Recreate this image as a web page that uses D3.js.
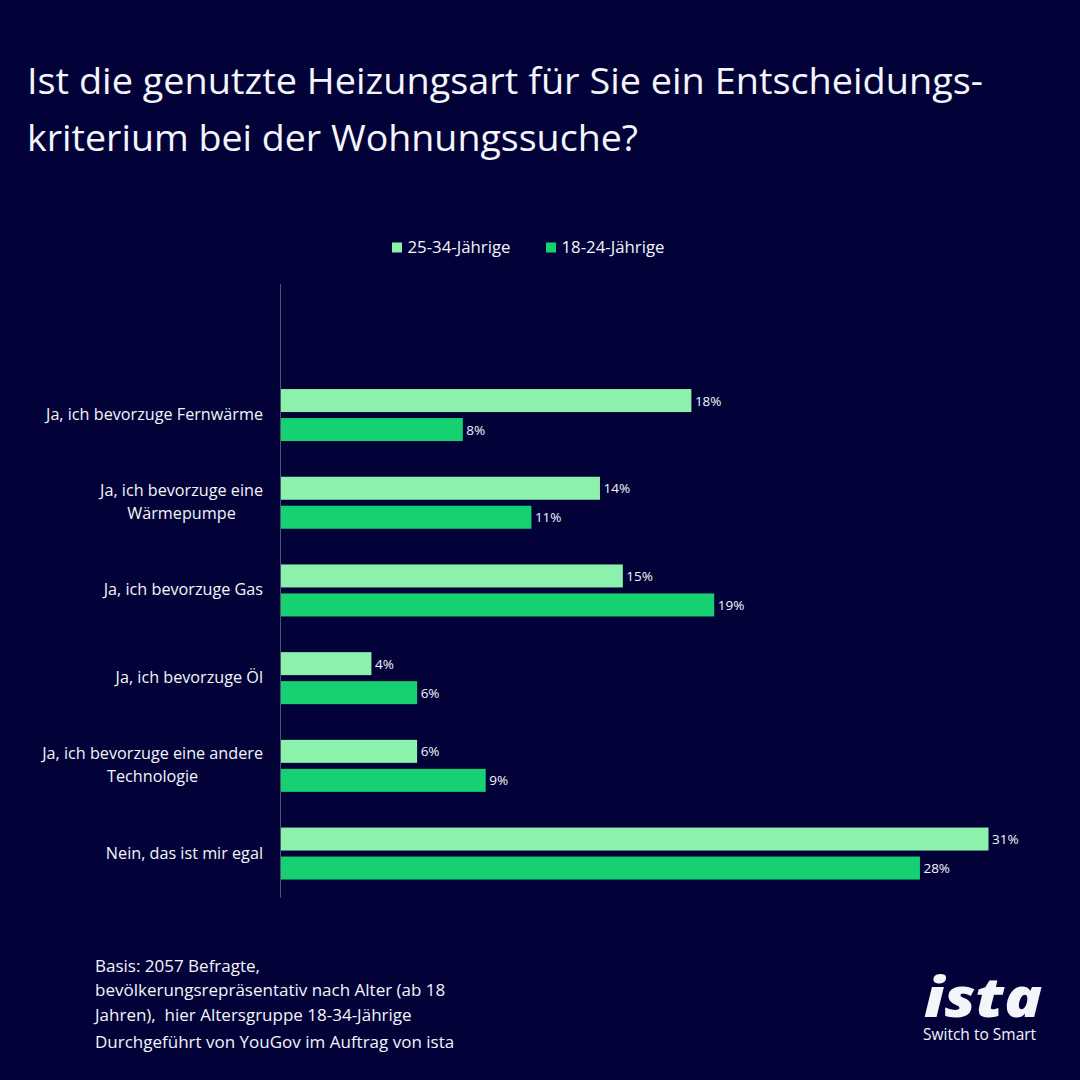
<!DOCTYPE html>
<html>
<head>
<meta charset="utf-8">
<script src="https://cdn.jsdelivr.net/npm/d3@7"></script>
<style>
    html, body { margin: 0; padding: 0; background: #020238; }
    svg { display: block; }
    text { font-family: "Open Sans", sans-serif; fill: #f4f5fa; }
</style>
</head>
<body>
<svg id="chart" width="1080" height="1080"></svg>
<script>
    const titleLines = ['Ist die genutzte Heizungsart für Sie ein Entscheidungs-', 'kriterium bei der Wohnungssuche?'];
    const categories = ['', 'Ja, ich bevorzuge Fernwärme', 'Ja, ich bevorzuge eine|Wärmepumpe', 'Ja, ich bevorzuge Gas',
        'Ja, ich bevorzuge Öl', 'Ja, ich bevorzuge eine andere|Technologie', 'Nein, das ist mir egal'];
    const seriesNames = ['25-34-Jährige', '18-24-Jährige'];
    const older = [null, 18, 14, 15, 4, 6, 31];
    const younger = [null, 8, 11, 19, 6, 9, 28];
    const seriesColors = ['#8cf2ab', '#16d172'];
    const noteLines = ['Basis: 2057 Befragte,', 'bevölkerungsrepräsentativ nach Alter (ab 18', 'Jahren),  hier Altersgruppe 18-34-Jährige', 'Durchgeführt von YouGov im Auftrag von ista'];

    const svg = d3.select('#chart');
    svg.append('rect').attr('width', 1080).attr('height', 1080).attr('fill', '#020238');

    // title
    svg.selectAll('.title').data(titleLines).join('text')
        .attr('class', 'title')
        .attr('x', 27)
        .attr('y', (d, i) => 94 + i * 57)
        .attr('font-size', 37.2)
        .attr('font-weight', 500)
        .attr('textLength', (d, i) => [956, 611][i])
        .attr('lengthAdjust', 'spacingAndGlyphs')
        .text(d => d);

    const x = d3.scaleLinear().domain([0, 31]).range([280, 988.5]);
    const y = d3.scaleBand().domain(categories).range([283.5, 897.4]);
    const inner = d3.scaleBand().domain([0, 1]).range([-26, 26]).paddingInner(6 / 29);

    // bars
    [older, younger].forEach((values, s) => {
        const rows = categories.map((c, i) => ({c: c, v: values[i]})).filter(d => d.v !== null);
        const mid = d => y(d.c) + y.bandwidth() / 2;
        svg.selectAll('.bar' + s).data(rows).join('rect')
            .attr('class', 'bar' + s)
            .attr('x', x(0))
            .attr('y', d => mid(d) + inner(s))
            .attr('width', d => x(d.v) - x(0))
            .attr('height', inner.bandwidth())
            .attr('fill', seriesColors[s]);
        svg.selectAll('.val' + s).data(rows).join('text')
            .attr('class', 'val' + s)
            .attr('x', d => x(d.v) + 3.5)
            .attr('y', d => mid(d) + inner(s) + inner.bandwidth() / 2 + 5)
            .attr('font-size', 13.5)
            .text(d => d.v + '%');
    });

    // vertical axis line
    const axis = d3.axisLeft(y).tickSize(0).tickFormat('');
    const axisG = svg.append('g').attr('transform', 'translate(280,0)').call(axis);
    axisG.select('.domain').attr('stroke', '#4f5378').attr('stroke-width', 1);

    // category labels, lines centred in a block that ends at the axis gap
    categories.filter(c => c).forEach(c => {
        const parts = c.split('|');
        const g = svg.append('g');
        const lines = g.selectAll('text').data(parts).join('text')
            .attr('font-size', 16.2)
            .attr('text-anchor', 'middle')
            .attr('y', (d, i) => y(c) + y.bandwidth() / 2 + 5 + (i - (parts.length - 1) / 2) * 23)
            .text(d => d);
        const w = d3.max(lines.nodes(), n => n.getComputedTextLength());
        lines.attr('x', 263 - w / 2);
    });

    // legend
    const legendX = [392, 546];
    seriesNames.forEach((name, i) => {
        svg.append('rect').attr('x', legendX[i]).attr('y', 242.5).attr('width', 10).attr('height', 10).attr('fill', seriesColors[i]);
        svg.append('text').attr('x', legendX[i] + 15.5).attr('y', 253).attr('font-size', 16.8).text(name);
    });

    // footnote
    const noteY = [972, 996, 1021, 1048];
    svg.selectAll('.note').data(noteLines).join('text')
        .attr('class', 'note')
        .attr('x', 95)
        .attr('y', (d, i) => noteY[i])
        .attr('font-size', 17)
        .style('white-space', 'pre')
        .text(d => d);

    // logo
    svg.append('text').attr('x', 924).attr('y', 1017).attr('font-size', 55)
        .attr('font-weight', 800).attr('font-style', 'italic')
        .attr('textLength', 118).attr('lengthAdjust', 'spacingAndGlyphs').text('ista');
    svg.append('text').attr('x', 923).attr('y', 1040).attr('font-size', 15.5).text('Switch to Smart');
</script>
</body>
</html>
